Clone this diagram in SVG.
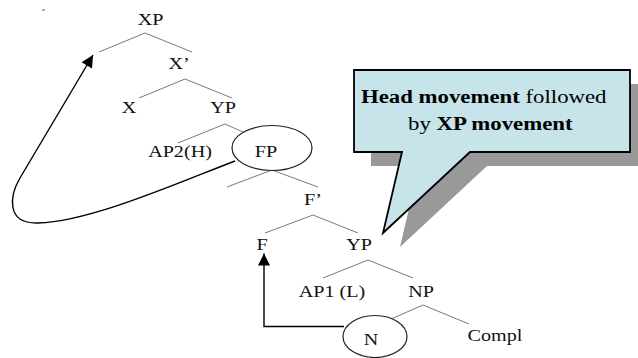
<svg xmlns="http://www.w3.org/2000/svg" width="638" height="358" viewBox="0 0 638 358">
<defs>
<style>
.t{font-size:17.5px;fill:#111;text-anchor:middle}
.c{font-size:19px;fill:#000}
.b{font-weight:bold}
.br{stroke:#7a7a7a;stroke-width:1;fill:none}
.mv{stroke:#000;stroke-width:1.4;fill:none}
.el{fill:#fff;stroke:#222;stroke-width:1.2}
</style>
<marker id="ah" viewBox="0 0 10 10" refX="10" refY="5" markerUnits="userSpaceOnUse" markerWidth="13" markerHeight="12" orient="auto">
<path d="M0,0 L10,5 L0,10 Z" fill="#000"/>
</marker>
</defs>
<rect width="638" height="358" fill="#fff"/>
<line x1="42" y1="10" x2="45" y2="10" stroke="#555" stroke-width="1"/>
<g id="connectors">
<line class="br" x1="145" y1="33" x2="99" y2="52"/>
<line class="br" x1="145" y1="33" x2="192" y2="52"/>
<line class="br" x1="185" y1="79" x2="139" y2="98"/>
<line class="br" x1="185" y1="79" x2="232" y2="98"/>
<line class="br" x1="225" y1="124" x2="178" y2="143"/>
<line class="br" x1="225" y1="124" x2="270" y2="144"/>
<line class="br" x1="272" y1="170" x2="227" y2="187"/>
<line class="br" x1="272" y1="170" x2="318" y2="187"/>
<line class="br" x1="313" y1="215" x2="265" y2="233"/>
<line class="br" x1="313" y1="215" x2="358" y2="233"/>
<line class="br" x1="368" y1="260" x2="323" y2="278"/>
<line class="br" x1="368" y1="260" x2="413" y2="278"/>
<line class="br" x1="423" y1="305" x2="375" y2="326"/>
<line class="br" x1="423" y1="305" x2="469" y2="324"/>
</g>
<g font-family="Liberation Serif, Times New Roman, Tinos, serif">
<g id="node-XP"><text class="t" transform="translate(150.5 25) scale(1.15 1)">XP</text></g>
<g id="node-Xbar"><text class="t" transform="translate(179 69) scale(1.15 1)">X’</text></g>
<g id="node-X"><text class="t" transform="translate(129 113) scale(1.15 1)">X</text></g>
<g id="node-YP1"><text class="t" transform="translate(223 113) scale(1.15 1)">YP</text></g>
<g id="node-AP2"><text class="t" transform="translate(180 157) scale(1.15 1)">AP2(H)</text></g>
<g id="node-FP"><ellipse class="el" cx="272" cy="148" rx="40" ry="22.5"/><text class="t" transform="translate(266 157) scale(1.15 1)">FP</text></g>
<g id="node-Fbar"><text class="t" transform="translate(313 205) scale(1.15 1)">F’</text></g>
<g id="node-F"><text class="t" transform="translate(262 250) scale(1.15 1)">F</text></g>
<g id="node-YP2"><text class="t" transform="translate(359 250) scale(1.15 1)">YP</text></g>
<g id="node-AP1"><text class="t" transform="translate(332 297) scale(1.15 1)">AP1 (L)</text></g>
<g id="node-NP"><text class="t" transform="translate(421 297) scale(1.15 1)">NP</text></g>
<g id="node-N"><ellipse class="el" cx="375" cy="336.5" rx="32" ry="21"/><text class="t" transform="translate(371 345) scale(1.15 1)">N</text></g>
<g id="node-Compl"><text class="t" transform="translate(495 341) scale(1.15 1)">Compl</text></g>
</g>
<g id="movement">
<path class="mv" d="M235,161 C180,182 90,222 38,223 C5,224 10,195 20,178 L93,55" marker-end="url(#ah)"/>
<path class="mv" d="M344,326.5 H264 V253.5" marker-end="url(#ah)"/>
</g>
<g id="callout" font-family="Liberation Serif, Times New Roman, Tinos, serif">
<path d="M354,70 H630 V152 H470 L383,233 L402,152 H354 Z" fill="#999" transform="translate(17 14)"/>
<path d="M354,70 H630 V152 H470 L383,233 L402,152 H354 Z" fill="#C6E4E9" stroke="#000" stroke-width="1.8" stroke-linejoin="miter"/>
<text class="c" transform="translate(361 102.5) scale(1.2 1)"><tspan class="b">Head movement</tspan> followed</text>
<text class="c" transform="translate(408 130) scale(1.2 1)">by <tspan class="b">XP movement</tspan></text>
</g>
</svg>
